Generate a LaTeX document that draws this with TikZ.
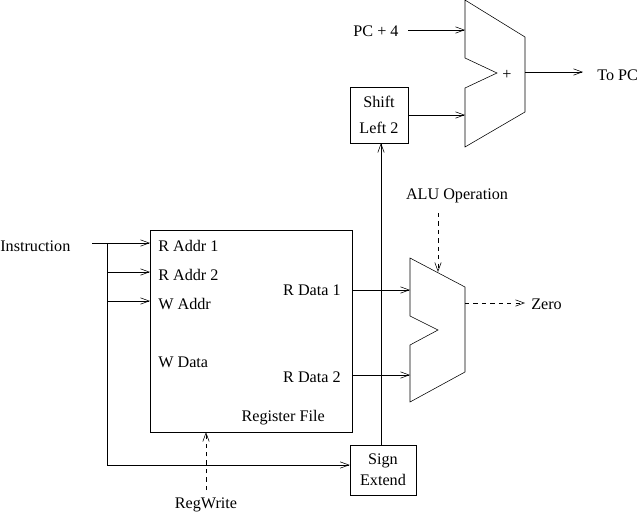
\documentclass[tikz,border=0pt]{standalone}
\usepackage{fontspec}
\setmainfont{Liberation Serif}
\usetikzlibrary{positioning,arrows.meta}
\tikzset{
  lbl/.style={inner sep=0pt, font=\fontsize{11.5}{13}\selectfont},
  box/.style={draw, inner sep=0pt, font=\fontsize{11.5}{13}\selectfont},
  ctl/.style={dashed, ->}
}
\begin{document}
\begin{tikzpicture}[x=0.025cm, y=-0.025cm, >={Straight Barb[length=2.2mm,width=1.6mm]}]
  \useasboundingbox (0,0) rectangle (640,515);
  % Register file
  \node[box, minimum width=202*0.025cm, minimum height=202*0.025cm] (rf) at (251,331) {};
  \node[lbl, anchor=west] (ra1) at (158,246) {R Addr 1};
  \node[lbl, anchor=west] (ra2) at (158,275) {R Addr 2};
  \node[lbl, anchor=west] (wa) at (158,304) {W Addr};
  \node[lbl, anchor=west] (wd) at (158,362) {W Data};
  \node[lbl, anchor=east] (rd1) at (341,290) {R Data 1};
  \node[lbl, anchor=east] (rd2) at (341,377) {R Data 2};
  \node[lbl, anchor=east] (rfname) at (325,418) {Register File};
  % Sign extend and shift
  \node[box, minimum width=66*0.025cm, minimum height=50*0.025cm, align=center] (sext) at (383,470) {Sign\\[2pt]Extend};
  \node[box, minimum width=58*0.025cm, minimum height=56*0.025cm, align=center] (shift) at (379,115) {Shift\\[6pt]Left 2};
  \coordinate (up0) at (381,445);
  \coordinate (up1) at (381,143);
  % Adder
  \draw (465,0) -- (525,37) -- (525,112) -- (465,147) -- (465,88) -- (497,73) -- (465,58) -- cycle;
  \node[lbl] (plus) at (507,75) {+};
  \coordinate (addin1) at (465,30);
  \coordinate (addin2) at (465,115);
  \coordinate (addout) at (525,72);
  % ALU
  \draw (410,258) -- (465,287) -- (465,372) -- (410,402) -- (410,345) -- (438,330) -- (410,316) -- cycle;
  \coordinate (aluin1) at (410,290);
  \coordinate (aluin2) at (410,375);
  \coordinate (aluout) at (465,303);
  \coordinate (aluop) at (438,272);
  % Labels
  \node[lbl, anchor=west] (instr) at (0,246) {Instruction};
  \node[lbl] (regwrite) at (206,505) {RegWrite};
  \node[lbl] (aluopname) at (457,196) {ALU Operation};
  \node[lbl, anchor=west] (zero) at (531,304) {Zero};
  \node[lbl, anchor=west] (topc) at (597,75) {To PC};
  \node[lbl] (pc4) at (376,31) {PC + 4};
  % Wires
  \coordinate (isrc) at (92,243);
  \coordinate (ij) at (107,243);
  \coordinate (ibot) at (107,465);
  \draw[->] (isrc) -- (150,243);
  \draw (ij) -- (ibot);
  \draw[->] (107,272) -- (150,272);
  \draw[->] (107,301) -- (150,301);
  \draw[->] (ibot) -- (sext.west |- ibot);
  \draw[ctl] (206,490) -- (206,432);
  \draw[->] (up0) -- (up1);
  \draw[->] (shift.east |- addin2) -- (addin2);
  \draw[->] (408,30) -- (addin1);
  \draw[->] (addout) -- (583,72);
  \draw[->] (352,290) -- (aluin1);
  \draw[->] (352,375) -- (aluin2);
  \draw[ctl] (aluout) -- (525,303);
  \draw[ctl] (438,213) -- (aluop);
\end{tikzpicture}
\end{document}
